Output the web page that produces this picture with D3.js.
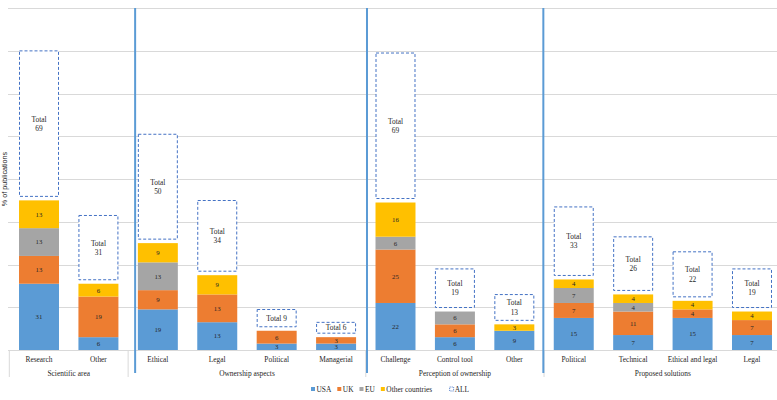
<!DOCTYPE html>
<html>
<head>
<meta charset="utf-8">
<script src="https://cdn.jsdelivr.net/npm/d3@7"></script>
<style>
  body { margin: 0; background: #fff; }
  svg { display: block; }
</style>
</head>
<body>
<div id="chart"></div>
<script>
// --- data ---
const categories = ["Research", "Other", "Ethical", "Legal", "Political", "Managerial",
  "Challenge", "Control tool", "Other", "Political", "Technical", "Ethical and legal", "Legal"];
const groupNames = ["Scientific area", "Ownership aspects", "Perception of ownership", "Proposed solutions"];
const groupSizes = [2, 4, 3, 4];

const usa   = [31, 6, 19, 13, 3, 3, 22, 6, 9, 15, 7, 15, 7];
const uk    = [13, 19, 9, 13, 6, 3, 25, 6, 0, 7, 11, 4, 7];
const eu    = [13, 0, 13, 0, 0, 0, 6, 6, 0, 7, 4, 0, 0];
const other = [13, 6, 9, 9, 0, 0, 16, 0, 3, 4, 4, 4, 4];
const all   = [69, 31, 50, 34, 9, 6, 69, 19, 13, 33, 26, 22, 19];

const seriesNames = ["USA", "UK", "EU", "Other countries"];
const colors = ["#5B9BD5", "#ED7D31", "#A5A5A5", "#FFC000"];

// --- layout ---
const W = 777, H = 400;
const plotLeft = 8, plotTop = 8, baseY = 350;
const fontSerif = "'Liberation Serif', 'Times New Roman', serif";
const textCol = "#1f1f1f";

const svg = d3.select("#chart").append("svg").attr("width", W).attr("height", H);

const x = d3.scaleBand()
  .domain(d3.range(categories.length))
  .range([9.3, 781.7])
  .paddingInner(0.327)
  .paddingOuter(0.1635);

const y = d3.scaleLinear().domain([0, 160]).range([baseY, plotTop]);

// gridlines
svg.append("g").selectAll("line")
  .data(d3.range(0, 161, 20))
  .join("line")
  .attr("x1", plotLeft).attr("x2", W)
  .attr("y1", d => Math.round(y(d)) + 0.5).attr("y2", d => Math.round(y(d)) + 0.5)
  .attr("stroke", "#D9D9D9").attr("stroke-width", 1);

// y label
svg.append("text")
  .attr("transform", `translate(6.5,${(baseY + plotTop) / 2}) rotate(-90)`)
  .attr("text-anchor", "middle")
  .attr("font-family", "'Liberation Sans', Arial, sans-serif")
  .attr("font-size", 7.2)
  .attr("fill", "#262626")
  .text("% of publications");

// stacked bars
const rows = categories.map((c, i) => ({
  i, USA: usa[i], UK: uk[i], EU: eu[i], "Other countries": other[i], ALL: all[i]
}));
const stacked = d3.stack().keys(seriesNames)(rows);

const segs = svg.append("g");
stacked.forEach((layer, k) => {
  const g = segs.append("g");
  g.selectAll("rect")
    .data(layer.filter(d => d[1] - d[0] > 0))
    .join("rect")
    .attr("x", d => x(d.data.i))
    .attr("width", x.bandwidth())
    .attr("y", d => y(d[1]))
    .attr("height", d => y(d[0]) - y(d[1]))
    .attr("fill", colors[k]);
  g.selectAll("text")
    .data(layer.filter(d => d[1] - d[0] > 0))
    .join("text")
    .attr("x", d => x(d.data.i) + x.bandwidth() / 2)
    .attr("y", d => (y(d[0]) + y(d[1])) / 2)
    .attr("dy", "0.35em")
    .attr("text-anchor", "middle")
    .attr("font-family", fontSerif)
    .attr("font-size", 6.8)
    .attr("fill", "#262626")
    .text(d => d[1] - d[0]);
});

// dashed "ALL" boxes, sitting on top of the stack
const gap = 4;
const boxes = svg.append("g").selectAll("g")
  .data(rows)
  .join("g");
boxes.each(function (d) {
  const sum = d.USA + d.UK + d.EU + d["Other countries"];
  const yb = y(sum) - gap, yt = y(sum + d.ALL) - gap + 2;
  const g = d3.select(this);
  g.append("rect")
    .attr("x", x(d.i) + 0.5)
    .attr("y", yt)
    .attr("width", x.bandwidth() - 1)
    .attr("height", yb - yt)
    .attr("fill", "#fff")
    .attr("stroke", "#4472C4")
    .attr("stroke-width", 1)
    .attr("stroke-dasharray", "3,2");
  const cx = x(d.i) + x.bandwidth() / 2, cy = (yb + yt) / 2;
  const t = g.append("text")
    .attr("text-anchor", "middle")
    .attr("font-family", fontSerif)
    .attr("font-size", 7.4)
    .attr("fill", textCol);
  if (yb - yt < 24) {
    t.attr("x", cx).attr("y", cy).attr("dy", "0.35em").text("Total " + d.ALL);
  } else {
    t.append("tspan").attr("x", cx).attr("y", cy - 4.6).attr("dy", "0.35em").text("Total");
    t.append("tspan").attr("x", cx).attr("y", cy + 4.6).attr("dy", "0.35em").text(d.ALL);
  }
});

// category axis (two levels)
svg.append("g").selectAll("text")
  .data(categories)
  .join("text")
  .attr("x", (d, i) => x(i) + x.bandwidth() / 2)
  .attr("y", 359)
  .attr("dy", "0.35em")
  .attr("text-anchor", "middle")
  .attr("font-family", fontSerif)
  .attr("font-size", 7.4)
  .attr("fill", textCol)
  .text(d => d);

const starts = [0];
groupSizes.forEach(n => starts.push(starts[starts.length - 1] + n));
const boundary = i => x.range()[0] + i * x.step();

svg.append("g").selectAll("line")
  .data(starts)
  .join("line")
  .attr("x1", d => boundary(d)).attr("x2", d => boundary(d))
  .attr("y1", baseY).attr("y2", 377)
  .attr("stroke", "#D9D9D9").attr("stroke-width", 1);

svg.append("g").selectAll("text")
  .data(groupNames)
  .join("text")
  .attr("x", (d, i) => (boundary(starts[i]) + boundary(starts[i + 1])) / 2)
  .attr("y", 373)
  .attr("dy", "0.35em")
  .attr("text-anchor", "middle")
  .attr("font-family", fontSerif)
  .attr("font-size", 7.4)
  .attr("fill", textCol)
  .text(d => d);

// blue separators between sections (hand-placed in the original, slightly off the boundaries)
const sepOffsets = [7, 1.2, -0.7];
svg.append("g").selectAll("line")
  .data(starts.slice(1, -1))
  .join("line")
  .attr("x1", (d, i) => boundary(d) + sepOffsets[i])
  .attr("x2", (d, i) => boundary(d) + sepOffsets[i])
  .attr("y1", plotTop).attr("y2", 373)
  .attr("stroke", "#5B9BD5").attr("stroke-width", 2);

// legend
const legend = svg.append("g").attr("transform", "translate(311,389)");
const items = seriesNames.map((s, k) => ({ name: s, color: colors[k] })).concat([{ name: "ALL", color: null }]);
let lx = 0;
items.forEach((it, k) => {
  if (it.color) {
    legend.append("rect").attr("x", lx).attr("y", -2).attr("width", 4).attr("height", 4).attr("fill", it.color);
  } else {
    lx += 11;
    legend.append("rect").attr("x", lx + 0.5).attr("y", -2).attr("width", 4).attr("height", 4)
      .attr("fill", "none").attr("stroke", "#4472C4").attr("stroke-width", 0.8).attr("stroke-dasharray", "1.2,0.8");
  }
  const t = legend.append("text")
    .attr("x", lx + 5.5).attr("y", 0).attr("dy", "0.35em")
    .attr("font-family", fontSerif).attr("font-size", 7.4).attr("fill", textCol)
    .text(it.name);
  lx += 5.5 + t.node().getComputedTextLength() + 6;
});
</script>
</body>
</html>
